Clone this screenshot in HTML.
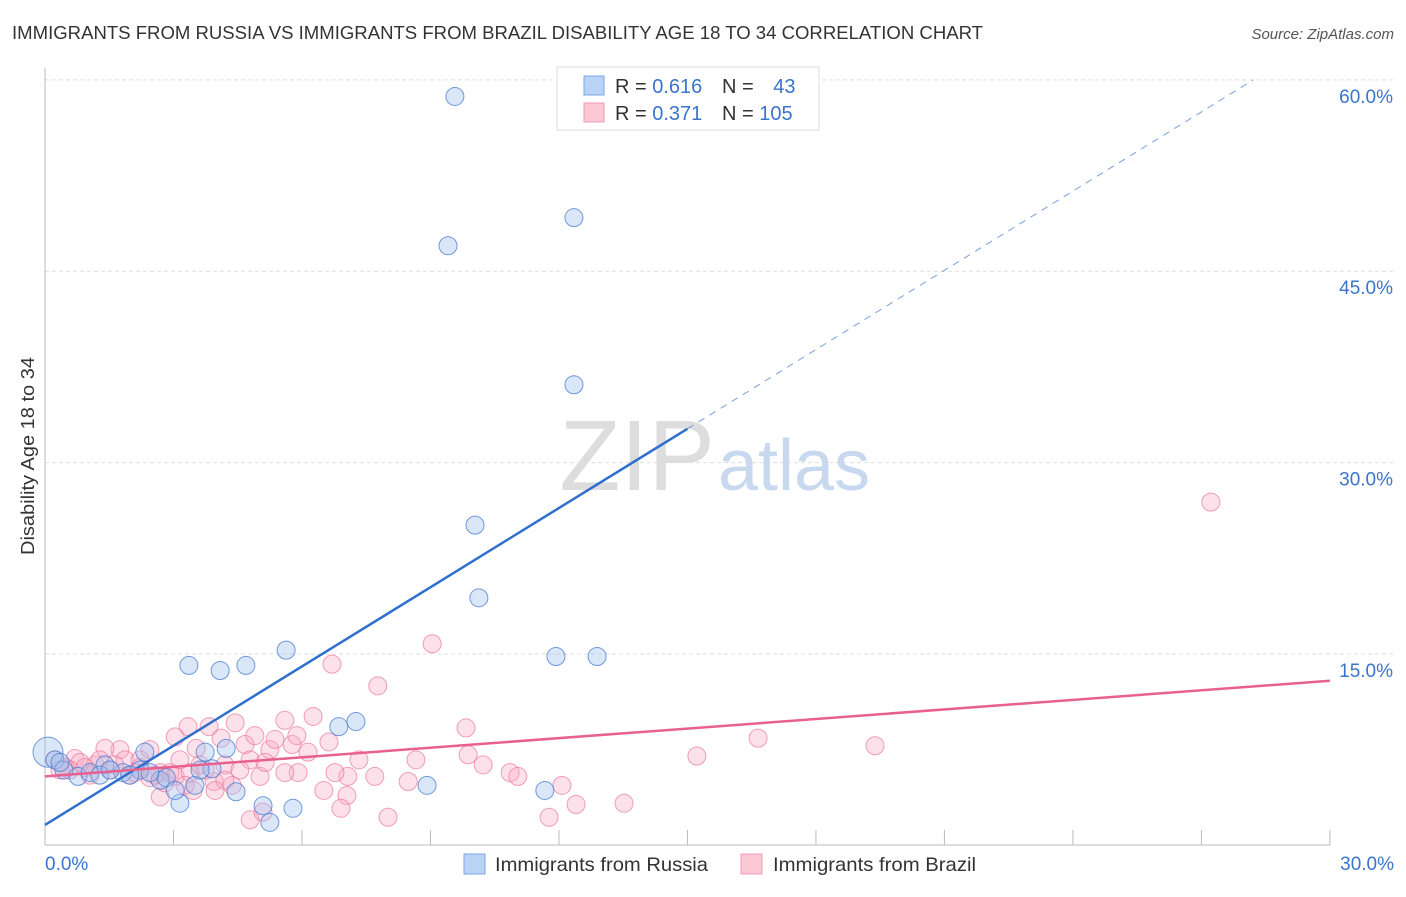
<!DOCTYPE html>
<html><head><meta charset="utf-8"><style>
body{margin:0;background:#fff;font-family:"Liberation Sans",sans-serif}
svg text{font-family:"Liberation Sans",sans-serif}
</style></head><body>
<svg id="chart" width="1406" height="892">
<text x="12" y="39" font-size="18.5" fill="#333" textLength="971" lengthAdjust="spacingAndGlyphs">IMMIGRANTS FROM RUSSIA VS IMMIGRANTS FROM BRAZIL DISABILITY AGE 18 TO 34 CORRELATION CHART</text>
<text x="1394" y="39" font-size="15" fill="#555" font-style="italic" text-anchor="end">Source: ZipAtlas.com</text>
<text x="34" y="456" font-size="18" fill="#333" text-anchor="middle" textLength="198" lengthAdjust="spacingAndGlyphs" transform="rotate(-90 34 456)">Disability Age 18 to 34</text>
<g id="grid"></g>
<text x="715" y="490" font-size="100" font-family="Liberation Serif" fill="#ddd" text-anchor="end">ZIP</text>
<text x="718" y="490" font-size="72" fill="#c8d8ef">atlas</text>
<g id="pts"></g>
<g id="lines"></g>
<g>
<rect x="557" y="67" width="262" height="63" fill="#fff" stroke="#ddd"/>
<rect x="584" y="76" width="20" height="19" fill="#b9d3f5" stroke="#7aa6e6"/>
<rect x="584" y="103" width="20" height="19" fill="#fcc8d6" stroke="#f09ab3"/>
<text x="615" y="93" font-size="20" fill="#333">R = <tspan fill="#3a74cc">0.616</tspan></text>
<text x="722" y="93" font-size="20" fill="#333">N = <tspan fill="#3a74cc" dx="14">43</tspan></text>
<text x="615" y="120" font-size="20" fill="#333">R = <tspan fill="#3a74cc">0.371</tspan></text>
<text x="722" y="120" font-size="20" fill="#333">N = <tspan fill="#3a74cc">105</tspan></text>
</g>
<g>
<rect x="464" y="854" width="21" height="20" fill="#b9d3f5" stroke="#7aa6e6"/>
<text x="495" y="871" font-size="19.5" fill="#333" textLength="213" lengthAdjust="spacingAndGlyphs">Immigrants from Russia</text>
<rect x="741" y="854" width="21" height="20" fill="#fcc8d6" stroke="#f09ab3"/>
<text x="773" y="871" font-size="19.5" fill="#333" textLength="203" lengthAdjust="spacingAndGlyphs">Immigrants from Brazil</text>
</g>
</svg>
<script>
const yTicks=[15,30,45,60];
const yTickLabels=["15.0%","30.0%","45.0%","60.0%"];
const xTickLabels=["0.0%","30.0%"];
const russiaX=[9.57,12.35,9.41,12.35,10.04,10.13,11.93,12.89,3.36,4.09,4.69,5.63,6.86,7.26,2.33,3.74,4.23,3.9,0.07,0.23,0.44,0.77,1.05,1.4,1.82,2.22,2.69,2.83,3.15,3.04,3.5,4.46,5.09,5.25,5.79,8.92,11.67,0.35,1.28,1.98,1.52,2.45,3.62];
const russiaY=[58.7,49.2,47.0,36.1,25.1,19.4,14.8,14.8,14.1,13.7,14.1,15.3,9.3,9.7,7.3,7.3,7.6,6.0,7.3,6.7,5.9,5.4,5.7,6.3,5.7,5.9,5.1,5.3,3.3,4.3,4.7,4.2,3.1,1.8,2.9,4.7,4.3,6.5,5.5,5.5,5.9,5.7,5.9];
const brazilX=[27.22,9.04,6.70,7.77,9.83,6.26,5.60,4.44,3.34,3.83,4.67,5.77,5.88,6.14,6.63,7.33,5.25,4.79,3.53,3.04,4.11,8.66,9.88,10.23,10.86,11.04,7.70,8.48,7.07,6.77,7.05,6.51,6.91,8.01,4.79,5.09,11.77,12.40,12.07,13.52,15.22,16.65,19.38,2.69,3.46,3.95,4.37,5.02,5.91,5.60,2.45,1.75,1.40,1.87,0.70,0.82,1.17,0.23,0.47,2.22,2.69,3.04,3.39,3.74,4.20,2.45,1.98,1.52,1.05,0.58,3.15,3.62,4.90,5.37,4.55,4.20,3.97,3.27,2.80,2.22,0.35,0.93,1.28,1.63,2.10,2.57,2.92,5.14];
const brazilY=[26.9,15.8,14.2,12.5,9.2,10.1,9.8,9.6,9.3,9.3,7.9,7.9,8.6,7.3,8.1,6.7,7.5,6.7,7.6,8.5,8.4,6.7,7.1,6.3,5.7,5.4,5.4,5.0,5.4,5.7,3.9,4.3,2.9,2.2,2.0,2.6,2.2,3.2,4.7,3.3,7.0,8.4,7.8,3.8,4.3,5.0,4.7,5.4,5.7,5.7,7.5,7.5,7.6,6.7,6.8,6.5,6.3,6.7,6.1,6.1,5.7,5.4,5.7,5.9,6.3,5.3,5.5,5.9,5.5,5.9,6.7,6.3,8.6,8.3,5.9,5.1,4.3,4.7,4.9,6.7,5.9,6.1,6.7,6.3,5.7,5.5,5.7,6.5];
const russiaTrend=[1.6,2.07];
const brazilTrend=[5.4,0.25];
const X=v=>45+v*42.83, Y=v=>845.3-v*12.757;
const NS="http://www.w3.org/2000/svg";
function mk(tag,attrs,parent){const e=document.createElementNS(NS,tag);for(const k in attrs)e.setAttribute(k,attrs[k]);parent.appendChild(e);return e;}
const grid=document.getElementById('grid');
yTicks.forEach((t,i)=>{
 const l=mk('line',{x1:45,x2:1393,y1:Y(t),y2:Y(t),stroke:'#ddd','stroke-dasharray':'4,3'},grid);
 
 
 const tx=mk('text',{x:1393,y:Y(t)+23,'font-size':19,fill:'#3a74cc','text-anchor':'end'},grid);
 tx.textContent=yTickLabels[i];
 
 
});
const ax=mk('line',{x1:45,x2:45,y1:68,y2:845,stroke:'#bbb'},grid);


const bx=mk('line',{x1:45,x2:1330,y1:845,y2:845,stroke:'#bbb'},grid);


for(let i=1;i<=10;i++){const t=mk('line',{x1:X(i*3),x2:X(i*3),y1:830,y2:845,stroke:'#bbb'},grid);
 
 }
[[0,'start',45],[30,'end',1394]].forEach((a,i)=>{const t=mk('text',{x:a[2],y:870,'font-size':19,fill:'#3a74cc','text-anchor':a[1]},grid);t.textContent=xTickLabels[i];
 
 });
const pts=document.getElementById('pts');
brazilX.forEach((x,i)=>{const c=mk('circle',{cx:X(x),cy:Y(brazilY[i]),r:9,fill:'rgba(248,170,195,0.35)',stroke:'rgba(235,120,155,0.7)'},pts);
 
 });
russiaX.forEach((x,i)=>{const c=mk('circle',{cx:X(x),cy:Y(russiaY[i]),r:i==18?15:9,fill:'rgba(160,195,240,0.4)',stroke:'rgba(70,120,210,0.75)'},pts);
 
 });
const lines=document.getElementById('lines');
const f=(tr,x)=>tr[0]+tr[1]*x;
const xEnd=(60-russiaTrend[0])/russiaTrend[1];
let l1=mk('line',{x1:X(0),y1:Y(f(russiaTrend,0)),x2:X(15),y2:Y(f(russiaTrend,15)),stroke:'#2f6fd0','stroke-width':2.5},lines);


let l2=mk('line',{x1:X(15),y1:Y(f(russiaTrend,15)),x2:X(xEnd),y2:Y(60),stroke:'#7aa0dd','stroke-width':1,'stroke-dasharray':'7,6'},lines);


let l3=mk('line',{x1:X(0),y1:Y(f(brazilTrend,0)),x2:X(30),y2:Y(f(brazilTrend,30)),stroke:'#e8608f','stroke-width':2.5},lines);


</script>
</body></html>
